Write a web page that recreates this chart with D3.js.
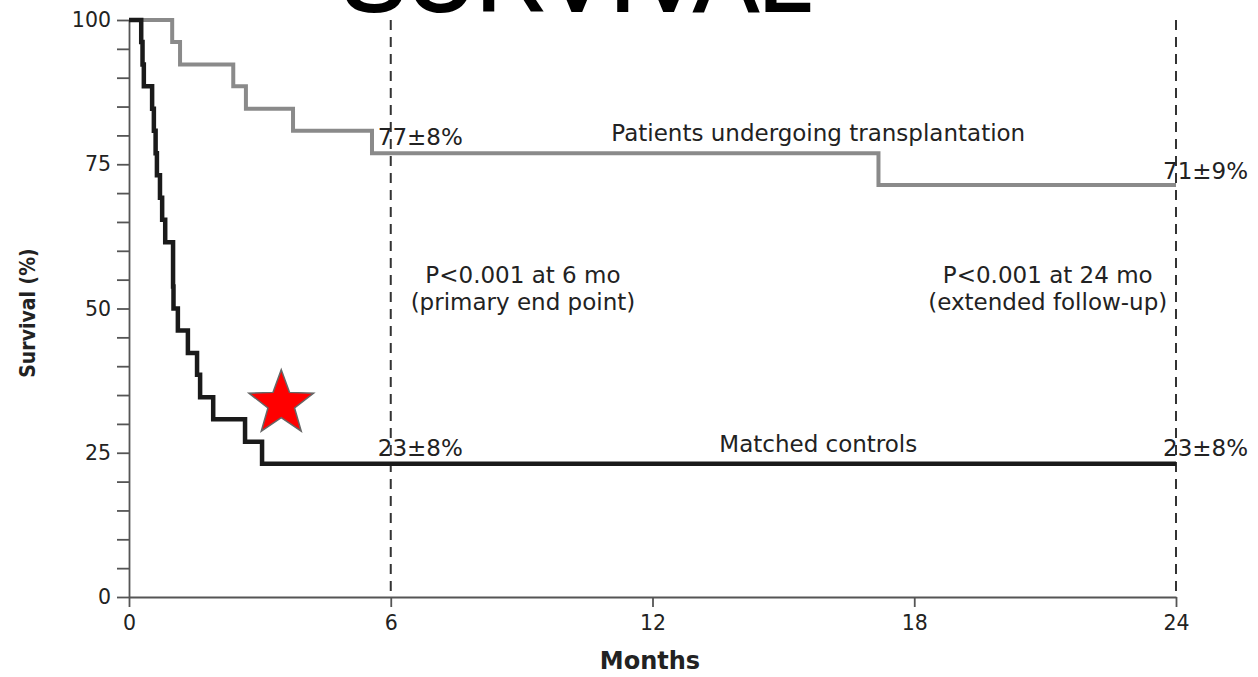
<!DOCTYPE html>
<html>
<head>
<meta charset="utf-8">
<script src="https://cdn.jsdelivr.net/npm/d3@7"></script>
<style>
  html, body { margin: 0; padding: 0; background: #fff; overflow: hidden; }
  svg { display: block; }
  .lbl { font-family: "DejaVu Sans", "Noto Sans", sans-serif; fill: #222; }
</style>
</head>
<body>
<svg id="chart" width="1258" height="677"></svg>
<script>
// Kaplan-Meier survival: transplant recipients vs matched controls
const title = "SURVIVAL";

// Transplant group: event times (months) and survival (%) after each step
const transplantTimes = [0, 0.99, 1.17, 2.39, 2.68, 3.76, 5.57, 17.18];
const transplantSurv  = [100, 96.2, 92.3, 88.5, 84.6, 80.8, 76.9, 71.4];

// Matched controls: event times (months) and survival (%) after each step
const controlTimes = [0, 0.28, 0.31, 0.34, 0.53, 0.57, 0.61, 0.64, 0.71, 0.76, 0.83,
                      1.01, 1.01, 1.02, 1.12, 1.35, 1.56, 1.63, 1.93, 2.66, 3.05];
const controlSurv  = [100, 96.2, 92.3, 88.5, 84.6, 80.8, 76.9, 73.1, 69.2, 65.4, 61.5,
                      57.7, 53.8, 50.0, 46.2, 42.3, 38.5, 34.6, 30.8, 26.9, 23.1];

const followUpEnd = 24;
const xTicks = [0, 6, 12, 18, 24];
const yMinorTicks = d3.range(0, 101, 5);
const yMajorTicks = [0, 25, 50, 75, 100];
const landmarks = [6, 24];

// Survival estimates printed at the landmarks
const landmarkNotes = [
  { month: 6,  surv: 77, text: "77±8%" },
  { month: 24, surv: 71, text: "71±9%" },
  { month: 6,  surv: 23, text: "23±8%" },
  { month: 24, surv: 23, text: "23±8%" }
];
const pNotes = [
  { month: 9.03,  lines: ["P<0.001 at 6 mo", "(primary end point)"] },
  { month: 21.06, lines: ["P<0.001 at 24 mo", "(extended follow-up)"] }
];
const seriesLabels = [
  { text: "Patients undergoing transplantation", month: 15.8, surv: 77 },
  { text: "Matched controls", month: 15.8, surv: 23 }
];
const starMark = { month: 3.49, surv: 33.5 };

const svg = d3.select("#chart");
const x = d3.scaleLinear().domain([0, 24]).range([129, 1176]);
const y = d3.scaleLinear().domain([0, 100]).range([597, 20]);

// Title, partly above the top edge
svg.append("text")
  .attr("x", 577).attr("y", 11)
  .attr("text-anchor", "middle")
  .style("font-family", "'Liberation Sans', Arial, sans-serif")
  .style("font-size", "97px")
  .style("stroke", "#000").style("stroke-width", 2)
  .attr("fill", "#000")
  .text(title);

// Landmark dashed verticals
svg.append("g").selectAll("line").data(landmarks).join("line")
  .attr("x1", d => x(d)).attr("x2", d => x(d))
  .attr("y1", y(100)).attr("y2", y(0))
  .attr("stroke", "#333").attr("stroke-width", 2)
  .attr("stroke-dasharray", "10,7");

// Axes
const yAxis = d3.axisLeft(y)
  .tickValues(yMinorTicks)
  .tickSize(12).tickSizeOuter(0).tickPadding(6)
  .tickFormat(d => yMajorTicks.includes(d) ? d : "");
const gy = svg.append("g").attr("transform", `translate(${x(0)},0)`).call(yAxis);

const xAxis = d3.axisBottom(x)
  .tickValues(xTicks)
  .tickSize(10).tickSizeOuter(0).tickPadding(8);
const gx = svg.append("g").attr("transform", `translate(0,${y(0)})`).call(xAxis);

[gx, gy].forEach(g => {
  g.select(".domain").attr("stroke", "#555").attr("stroke-width", 1.8);
  g.selectAll(".tick line").attr("stroke", "#555").attr("stroke-width", 1.8);
  g.selectAll(".tick text")
    .attr("class", "lbl")
    .style("font-size", "20.5px")
    .attr("fill", "#222");
});

// Axis titles
svg.append("text").attr("class", "lbl")
  .attr("x", 650).attr("y", 669)
  .attr("text-anchor", "middle")
  .style("font-size", "24px").style("font-weight", 700)
  .text("Months");
svg.append("text")
  .attr("transform", `translate(35,${313}) rotate(-90)`)
  .attr("text-anchor", "middle")
  .style("font-family", "'DejaVu Sans Condensed', 'DejaVu Sans', sans-serif")
  .style("font-size", "21px").style("font-weight", 700)
  .attr("fill", "#222")
  .text("Survival (%)");

// Step curves
const step = d3.line().x(d => x(d[0])).y(d => y(d[1])).curve(d3.curveStepAfter);
function series(times, surv) {
  const pts = times.map((t, i) => [t, surv[i]]);
  pts.push([followUpEnd, surv[surv.length - 1]]);
  return pts;
}
svg.append("path")
  .attr("d", step(series(transplantTimes, transplantSurv)))
  .attr("fill", "none").attr("stroke", "#8a8a8a").attr("stroke-width", 4);
svg.append("path")
  .attr("d", step(series(controlTimes, controlSurv)))
  .attr("fill", "none").attr("stroke", "#1a1a1a").attr("stroke-width", 4.5);

// Landmark estimates
svg.append("g").selectAll("text").data(landmarkNotes).join("text")
  .attr("class", "lbl")
  .attr("x", d => x(d.month) - 13)
  .attr("y", d => y(d.surv) - 8)
  .style("font-size", "23px")
  .text(d => d.text);

// P-value notes
pNotes.forEach(p => {
  const t = svg.append("text").attr("class", "lbl")
    .attr("text-anchor", "middle")
    .style("font-size", "23px");
  p.lines.forEach((line, i) => {
    t.append("tspan").attr("x", x(p.month))
      .attr("y", 283 + i * 27).text(line);
  });
});

// Series labels
svg.append("g").selectAll("text").data(seriesLabels).join("text")
  .attr("class", "lbl")
  .attr("text-anchor", "middle")
  .attr("x", d => x(d.month))
  .attr("y", d => y(d.surv) - 12)
  .style("font-size", "23px")
  .text(d => d.text);

// Red star marker
const R = 34, r = 14;
const starPts = d3.range(10).map(i => {
  const a = -Math.PI / 2 + i * Math.PI / 5;
  const rad = i % 2 === 0 ? R : r;
  return [rad * Math.cos(a), rad * Math.sin(a)];
});
svg.append("polygon")
  .attr("transform", `translate(${x(starMark.month)},${y(starMark.surv)})`)
  .attr("points", starPts.map(p => p.join(",")).join(" "))
  .attr("fill", "#ff0000").attr("stroke", "#666").attr("stroke-width", 1.5);
</script>
</body>
</html>
